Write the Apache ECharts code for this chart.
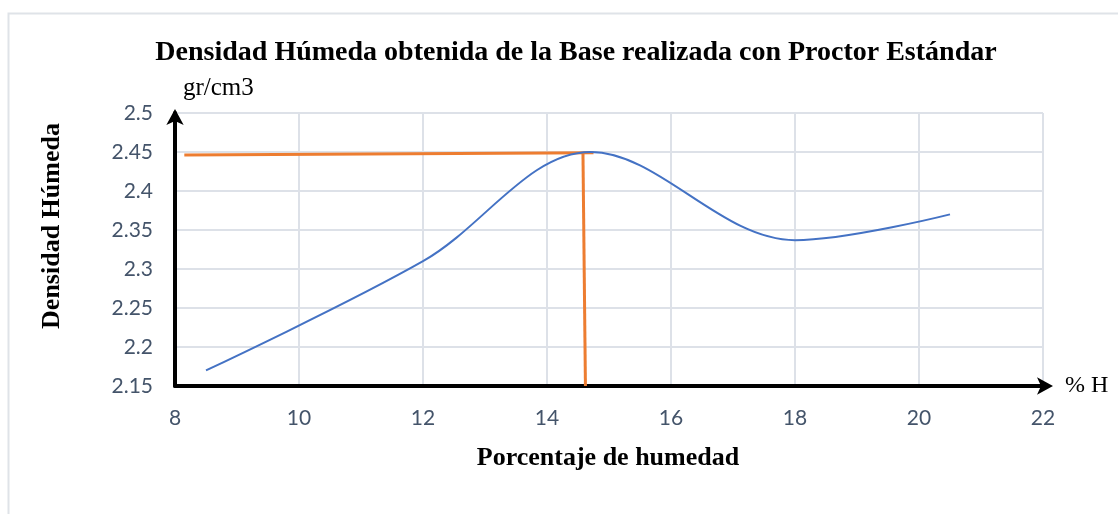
<!DOCTYPE html>
<html>
<head>
<meta charset="utf-8">
<script src="https://cdn.jsdelivr.net/npm/echarts@6/dist/echarts.min.js"></script>
<style>
  html, body { margin: 0; padding: 0; background: #fff; }
  #chart { width: 1118px; height: 514px; }
</style>
</head>
<body>
<div id="chart"></div>
<script>
// datos
var humedad = [8.5, 12, 14.7, 18, 20.5]
var densidad = [2.17, 2.31, 2.45, 2.337, 2.37]

// lineas naranjas (maxima densidad / humedad optima)
var lineaHorizX = [8.15, 14.75]
var lineaHorizY = [2.446, 2.449]
var lineaVertX = [14.58, 14.62]
var lineaVertY = [2.449, 2.15]

var xTicks = [8, 10, 12, 14, 16, 18, 20, 22]
var yTicks = [2.15, 2.2, 2.25, 2.3, 2.35, 2.4, 2.45, 2.5]

function pares (xs, ys) {
  var out = []
  for (var i = 0; i < xs.length; i++) out.push([xs[i], ys[i]])
  return out
}

var myChart = echarts.init(document.getElementById('chart'))

var option = {
  animation: false,
  title: {
    text: 'Densidad Húmeda obtenida de la Base realizada con Proctor Estándar',
    left: 571,
    top: 34,
    textAlign: 'center',
    textStyle: {
      fontFamily: 'Liberation Serif',
      fontWeight: 'bold',
      fontSize: 28,
      color: '#000'
    }
  },
  grid: {
    left: 175,
    right: 75,
    top: 113,
    bottom: 128
  },
  xAxis: {
    type: 'value',
    min: xTicks[0],
    max: xTicks[xTicks.length - 1],
    interval: 2,
    name: '% H',
    nameLocation: 'end',
    nameGap: 22,
    nameTextStyle: {
      fontFamily: 'Liberation Serif',
      fontSize: 24,
      color: '#000',
      align: 'left',
      verticalAlign: 'middle'
    },
    axisLine: {
      show: true,
      symbol: ['none', 'arrow'],
      symbolSize: [13, 16],
      symbolOffset: [0, 10],
      lineStyle: { color: '#000', width: 4 }
    },
    axisTick: { show: false },
    axisLabel: {
      margin: 22,
      fontFamily: 'Lato',
      fontSize: 21,
      color: '#44546a'
    },
    splitLine: {
      show: true,
      lineStyle: { color: '#dde1e8', width: 2 }
    }
  },
  yAxis: {
    type: 'value',
    min: yTicks[0],
    max: yTicks[yTicks.length - 1],
    interval: 0.05,
    name: 'gr/cm3',
    nameLocation: 'end',
    nameGap: 12,
    nameTextStyle: {
      fontFamily: 'Liberation Serif',
      fontSize: 25,
      color: '#000',
      align: 'left',
      padding: [0, 0, 0, 8]
    },
    axisLine: {
      show: true,
      symbol: ['none', 'arrow'],
      symbolSize: [13, 16],
      symbolOffset: [0, 4],
      lineStyle: { color: '#000', width: 4 }
    },
    axisTick: { show: false },
    axisLabel: {
      margin: 22,
      fontFamily: 'Lato',
      fontSize: 21,
      color: '#44546a',
      formatter: function (v) { return String(Math.round(v * 100) / 100) }
    },
    splitLine: {
      show: true,
      lineStyle: { color: '#dde1e8', width: 2 }
    }
  },
  graphic: [
    {
      type: 'rect',
      shape: { x: 8.5, y: 13.5, width: 1200, height: 600 },
      style: { fill: 'none', stroke: '#dfe3e8', lineWidth: 2 },
      z: -10
    },
    {
      type: 'text',
      x: 52,
      y: 226,
      rotation: Math.PI / 2,
      style: {
        text: 'Densidad Húmeda',
        fontFamily: 'Liberation Serif',
        fontWeight: 'bold',
        fontSize: 26,
        fill: '#000',
        align: 'center',
        verticalAlign: 'middle'
      }
    },
    {
      type: 'text',
      x: 608,
      y: 458,
      style: {
        text: 'Porcentaje de humedad',
        fontFamily: 'Liberation Serif',
        fontWeight: 'bold',
        fontSize: 26,
        fill: '#000',
        align: 'center',
        verticalAlign: 'middle'
      }
    }
  ],
  series: [
    {
      name: 'Densidad',
      type: 'line',
      smooth: 0.35,
      showSymbol: false,
      lineStyle: { color: '#4472c4', width: 2 },
      data: pares(humedad, densidad),
      z: 3
    },
    {
      name: 'horizontal',
      type: 'line',
      showSymbol: false,
      lineStyle: { color: '#ed7d31', width: 3 },
      data: pares(lineaHorizX, lineaHorizY),
      z: 2
    },
    {
      name: 'vertical',
      type: 'line',
      showSymbol: false,
      lineStyle: { color: '#ed7d31', width: 3 },
      data: pares(lineaVertX, lineaVertY),
      z: 2
    }
  ]
}

myChart.setOption(option)
</script>
</body>
</html>
